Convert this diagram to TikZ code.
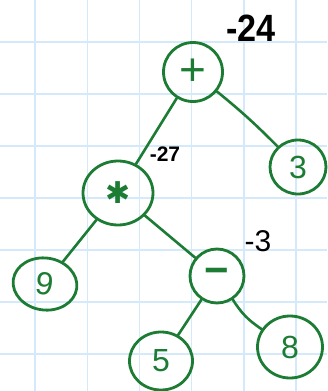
\documentclass[tikz,border=0pt]{standalone}
\usepackage{fontspec}
\setmainfont{Liberation Sans}
\newfontfamily\symfont{DejaVu Sans}
\usetikzlibrary{shapes.geometric}
\definecolor{ink}{RGB}{28,124,52}
\definecolor{gridblue}{RGB}{212,233,250}
\tikzset{
  treenode/.style={ellipse, draw=ink, line width=2.8pt, inner sep=0pt,
    text=ink, font=\fontsize{32}{32}\selectfont},
  branch/.style={draw=ink, line width=2.6pt, line cap=round},
  gridline/.style={draw=gridblue, line width=1.4pt},
  note/.style={text=black, inner sep=0pt}
}
\begin{document}
\begin{tikzpicture}[x=1pt, y=-1pt]
  \useasboundingbox[fill=white] (0,0) rectangle (327,391);
  % squared paper
  \foreach \gx in {35,87.2,139.4,191.6,243.8,296}
    \draw[gridline] (\gx,0) -- (\gx,391);
  \foreach \gy in {42,94,146,198,250,302,354}
    \draw[gridline] (0,\gy) -- (327,\gy);

  % expression tree
  \node[treenode, minimum width=59pt, minimum height=59pt] (plus)  at (193,72)
    {\fontsize{46}{46}\selectfont +};
  \node[treenode, minimum width=70pt, minimum height=64pt] (times) at (118,193)
    {\symfont\fontsize{30}{30}\selectfont ✱};
  \node[treenode, minimum width=56pt, minimum height=54pt] (three) at (298,167) {3};
  \node[treenode, minimum width=64pt, minimum height=52pt, rotate=-8] (nine) at (45,284) {9};
  \node[treenode, minimum width=54pt, minimum height=54pt] (minus) at (217,276)
    {\fontsize{42}{42}\selectfont\bfseries −};
  \node[treenode, minimum width=63pt, minimum height=58pt] (five)  at (161,361) {5};
  \node[treenode, minimum width=65pt, minimum height=62pt] (eight) at (290,347) {8};

  \draw[branch] (plus) -- (times);
  \draw[branch] (plus) to[bend left=3] (three);
  \draw[branch] (times) -- (nine);
  \draw[branch] (times) -- (minus);
  \draw[branch] (minus) -- (five);
  \draw[branch] (minus) to[bend right=12] (eight);

  % computed values
  \node[note, font=\fontsize{38}{38}\selectfont\bfseries, xscale=0.9] (vplus)  at (251,28)  {-24};
  \node[note, font=\fontsize{21}{21}\selectfont\bfseries] (vtimes) at (165,154) {-27};
  \node[note, font=\fontsize{30}{30}\selectfont] (vminus) at (258,241) {-3};
\end{tikzpicture}
\end{document}
